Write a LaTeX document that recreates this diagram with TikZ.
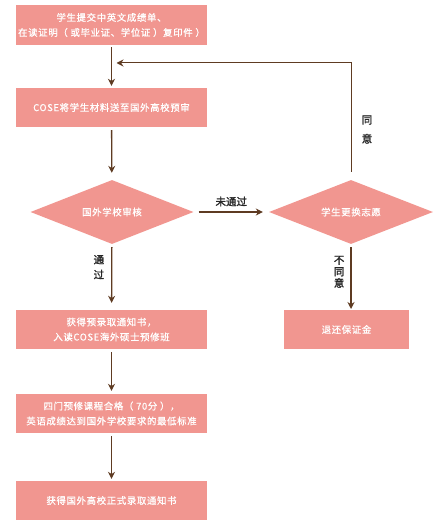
\documentclass[tikz,border=0pt]{standalone}
\usepackage{fontspec}
\setmainfont{Noto Sans CJK SC}[LetterSpace=7]
\newfontfamily\boxfont{Noto Sans CJK SC}[LetterSpace=7, FakeBold=0.8]
\newfontfamily\lblfont{Noto Sans CJK SC}[FakeBold=1.6]
\usetikzlibrary{shapes.geometric, arrows.meta}

\definecolor{boxpink}{HTML}{F19690}
\definecolor{arrowbrown}{HTML}{5E3B22}
\definecolor{labelgray}{HTML}{262626}

\begin{document}
\begin{tikzpicture}[x=1pt, y=-1pt,
        stepbox/.style={rectangle, fill=boxpink, text=white, minimum height=39pt, align=center, inner sep=0pt, font=\boxfont\fontsize{9.4}{15}\selectfont},
        choice/.style={diamond, fill=boxpink, text=white, aspect=2.5, inner sep=0pt, font=\boxfont\fontsize{9.4}{15}\selectfont},
        arr/.style={-{Stealth[length=7pt, width=7pt]}, draw=arrowbrown, line width=1.3pt},
        lbl/.style={text=labelgray, align=center, inner sep=0pt, font=\lblfont\fontsize{10.5}{15}\selectfont}]
            % Fix the canvas to the size of the reference
            \useasboundingbox (0,0) rectangle (439,532);

            % Draw the boxes of the main column
            \node[stepbox, minimum width=191pt, minimum height=40pt] (submit) at (111.5,25) {学生提交中英文成绩单、\\在读证明（ 或毕业证、学位证 ）复印件 ）};
            \node[stepbox, minimum width=191pt] (send) at (111.5,107.5) {COSE将学生材料送至国外高校预审};
            \node[choice, minimum width=163pt, minimum height=64pt] (review) at (112,212) {国外学校审核};
            \node[stepbox, minimum width=191pt] (prep) at (111.5,329.5) {获得预录取通知书，\\入读COSE海外硕士预修班};
            \node[stepbox, minimum width=191pt] (pass) at (111.5,413.5) {四门预修课程合格（ 70分 ），\\英语成绩达到国外学校要求的最低标准};
            \node[stepbox, minimum width=191pt] (offer) at (111.5,500.5) {获得国外高校正式录取通知书};

            % Draw the right column
            \node[choice, minimum width=164pt, minimum height=64pt] (change) at (351,212) {学生更换志愿};
            \node[stepbox, minimum width=125pt] (refund) at (346.5,329.5) {退还保证金};

            \coordinate (back) at (111.5,63);
            \coordinate (refundtop) at (351,309);
            \coordinate (changelow) at (351,247);

            \path[arr, shorten <=2pt, shorten >=2pt] (submit) edge (send);
            \path[arr, shorten <=3pt, shorten >=7pt] (send) edge (review);
            \path[arr, shorten <=5pt, shorten >=6pt] (review) edge node[lbl, above=5pt, midway] {未通过} (change);
            \path[arr, shorten <=3pt, shorten >=7pt] (review) edge node[lbl, left=7pt, pos=0.35] {通\\过} (prep);
            \path[arr, shorten <=3pt, shorten >=3pt] (prep) edge (pass);
            \path[arr, shorten <=3pt, shorten >=2pt] (pass) edge (offer);

            \draw[arr, line width=1pt, shorten <=8pt, shorten >=5pt] (change.north) |- (back);
            \node[lbl, font=\lblfont\fontsize{10.5}{19}\selectfont] (agree) at (367,129.5) {同\\意};

            \draw[arr] (changelow) -- node[lbl, left=6pt, pos=0.4, font=\lblfont\fontsize{10.5}{11.5}\selectfont] {不\\同\\意} (refundtop);
            % Done
        \end{tikzpicture}
\end{document}
